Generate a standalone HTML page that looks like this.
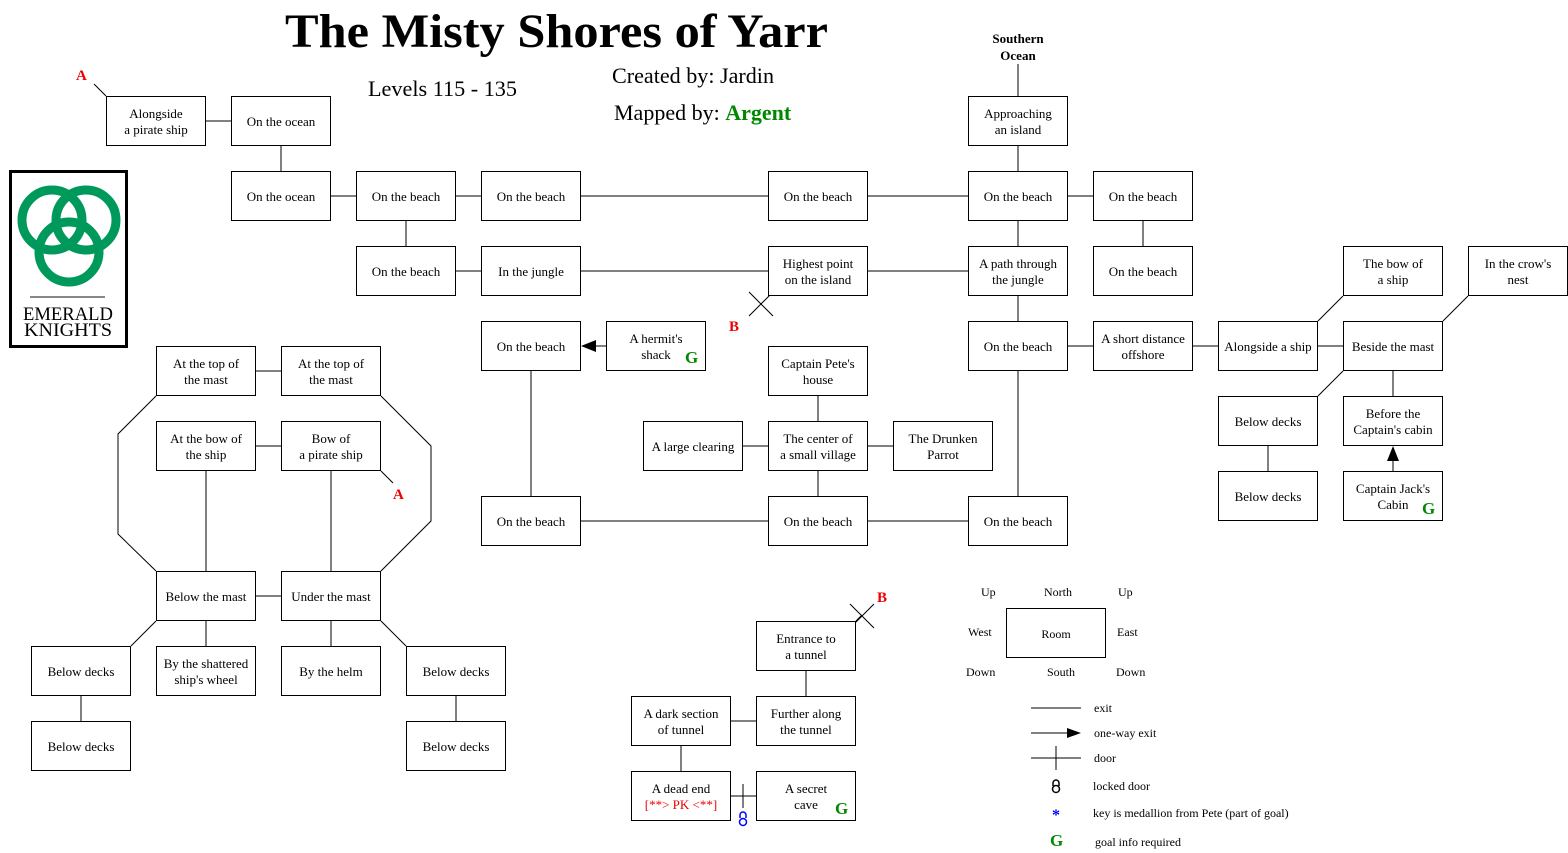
<!DOCTYPE html>
<html><head><meta charset="utf-8"><style>
html,body{margin:0;padding:0;background:#fff;width:1568px;height:853px;overflow:hidden}
svg{display:block;font-family:"Liberation Serif",serif}
.b{fill:#fff;stroke:#000;stroke-width:1}
.t{font-size:13px;text-anchor:middle;fill:#000}
.l{stroke:#000;stroke-width:1;fill:none}
.r{fill:#e00;font-weight:bold;font-size:15px}
.g{fill:#080;font-weight:bold;font-size:17px}
.s{font-size:12px;fill:#000}
</style></head><body>
<svg width="1568" height="853" viewBox="0 0 1568 853" xmlns="http://www.w3.org/2000/svg">
<!-- title -->
<text x="285" y="47" font-size="48" font-weight="bold" textLength="543" lengthAdjust="spacingAndGlyphs">The Misty Shores of Yarr</text>
<text x="368" y="96" font-size="22" textLength="149" lengthAdjust="spacingAndGlyphs">Levels 115 - 135</text>
<text x="612" y="83" font-size="22" textLength="162" lengthAdjust="spacingAndGlyphs">Created by: Jardin</text>
<text x="614" y="120" font-size="22">Mapped by: <tspan fill="#080" font-weight="bold">Argent</tspan></text>
<text x="1018" y="43" font-size="13" font-weight="bold" text-anchor="middle">Southern</text>
<text x="1018" y="60" font-size="13" font-weight="bold" text-anchor="middle">Ocean</text>

<!-- logo -->
<rect x="10.5" y="171.5" width="116" height="175" fill="#fff" stroke="#000" stroke-width="3"/>
<g fill="none" stroke="#00995c" stroke-width="9">
<circle cx="52" cy="220" r="30"/>
<circle cx="86" cy="220" r="30"/>
<circle cx="69" cy="252" r="30"/>
</g>
<line x1="30" y1="297" x2="105" y2="297" stroke="#888" stroke-width="2"/>
<text x="68" y="320" font-size="19" text-anchor="middle" textLength="90" lengthAdjust="spacingAndGlyphs">EMERALD</text>
<text x="68" y="336" font-size="19" text-anchor="middle" textLength="88" lengthAdjust="spacingAndGlyphs">KNIGHTS</text>

<!-- connectors -->
<g class="l">
<path d="M206 121H231M281 146V171M94 84L106 96"/>
<path d="M331 196H356M456 196H481M581 196H768M868 196H968M1068 196H1093"/>
<path d="M1018 64V96M1018 146V171M406 221V246M1143 221V246"/>
<path d="M456 271H481M581 271H768M868 271H968M1018 221V246M1018 296V321"/>
<path d="M749 292L773 316M773 292L749 316"/>
<path d="M592 346H606M531 371V496"/>
<path d="M1068 346H1093M1193 346H1218M1318 346H1343M1318 321L1343 296M1443 321L1468 296M1343 371L1318 396M1393 371V396M1393 460V471M1268 446V471"/>
<path d="M1018 371V496M818 396V421M743 446H768M868 446H893M818 471V496M581 521H768M868 521H968"/>
<path d="M256 371H281M256 446H281M156 396L118 434V534L156 571M381 396L431 446V521L381 571M381 471L393 483"/>
<path d="M206 471V571M331 471V571M256 596H281M156 621L131 646M206 621V646M331 621V646M381 621L406 646M81 696V721M456 696V721"/>
<path d="M856 621L862 615M850 604L874 628M874 604L850 628"/>
<path d="M806 671V696M731 721H756M681 746V771M731 796H756M743 784V808"/>
</g>
<polygon points="581,346 596,340 596,352" fill="#000"/>
<polygon points="1393,446 1387,461 1399,461" fill="#000"/>

<!-- labels A/B -->
<text x="76" y="80" class="r">A</text>
<text x="393" y="499" class="r">A</text>
<text x="729" y="331" class="r">B</text>
<text x="877" y="602" class="r">B</text>

<!-- boxes -->
<g class="b">
<rect x="106.5" y="96.5" width="99" height="49"/><rect x="231.5" y="96.5" width="99" height="49"/>
<rect x="231.5" y="171.5" width="99" height="49"/><rect x="356.5" y="171.5" width="99" height="49"/>
<rect x="481.5" y="171.5" width="99" height="49"/><rect x="768.5" y="171.5" width="99" height="49"/>
<rect x="968.5" y="96.5" width="99" height="49"/><rect x="968.5" y="171.5" width="99" height="49"/>
<rect x="1093.5" y="171.5" width="99" height="49"/>
<rect x="356.5" y="246.5" width="99" height="49"/><rect x="481.5" y="246.5" width="99" height="49"/>
<rect x="768.5" y="246.5" width="99" height="49"/><rect x="968.5" y="246.5" width="99" height="49"/>
<rect x="1093.5" y="246.5" width="99" height="49"/><rect x="1343.5" y="246.5" width="99" height="49"/>
<rect x="1468.5" y="246.5" width="99" height="49"/>
<rect x="481.5" y="321.5" width="99" height="49"/><rect x="606.5" y="321.5" width="99" height="49"/>
<rect x="768.5" y="346.5" width="99" height="49"/><rect x="968.5" y="321.5" width="99" height="49"/>
<rect x="1093.5" y="321.5" width="99" height="49"/><rect x="1218.5" y="321.5" width="99" height="49"/>
<rect x="1343.5" y="321.5" width="99" height="49"/>
<rect x="1218.5" y="396.5" width="99" height="49"/><rect x="1343.5" y="396.5" width="99" height="49"/>
<rect x="1218.5" y="471.5" width="99" height="49"/><rect x="1343.5" y="471.5" width="99" height="49"/>
<rect x="643.5" y="421.5" width="99" height="49"/><rect x="768.5" y="421.5" width="99" height="49"/>
<rect x="893.5" y="421.5" width="99" height="49"/>
<rect x="481.5" y="496.5" width="99" height="49"/><rect x="768.5" y="496.5" width="99" height="49"/>
<rect x="968.5" y="496.5" width="99" height="49"/>
<rect x="156.5" y="346.5" width="99" height="49"/><rect x="281.5" y="346.5" width="99" height="49"/>
<rect x="156.5" y="421.5" width="99" height="49"/><rect x="281.5" y="421.5" width="99" height="49"/>
<rect x="156.5" y="571.5" width="99" height="49"/><rect x="281.5" y="571.5" width="99" height="49"/>
<rect x="31.5" y="646.5" width="99" height="49"/><rect x="156.5" y="646.5" width="99" height="49"/>
<rect x="281.5" y="646.5" width="99" height="49"/><rect x="406.5" y="646.5" width="99" height="49"/>
<rect x="31.5" y="721.5" width="99" height="49"/><rect x="406.5" y="721.5" width="99" height="49"/>
<rect x="756.5" y="621.5" width="99" height="49"/>
<rect x="631.5" y="696.5" width="99" height="49"/><rect x="756.5" y="696.5" width="99" height="49"/>
<rect x="631.5" y="771.5" width="99" height="49"/><rect x="756.5" y="771.5" width="99" height="49"/>
<rect x="1006.5" y="608.5" width="99" height="49"/>
</g>

<g class="t">
<text x="156" y="118">Alongside</text><text x="156" y="134">a pirate ship</text>
<text x="281" y="126">On the ocean</text>
<text x="281" y="201">On the ocean</text>
<text x="406" y="201">On the beach</text>
<text x="531" y="201">On the beach</text>
<text x="818" y="201">On the beach</text>
<text x="1018" y="118">Approaching</text><text x="1018" y="134">an island</text>
<text x="1018" y="201">On the beach</text>
<text x="1143" y="201">On the beach</text>
<text x="406" y="276">On the beach</text>
<text x="531" y="276">In the jungle</text>
<text x="818" y="268">Highest point</text><text x="818" y="284">on the island</text>
<text x="1018" y="268">A path through</text><text x="1018" y="284">the jungle</text>
<text x="1143" y="276">On the beach</text>
<text x="1393" y="268">The bow of</text><text x="1393" y="284">a ship</text>
<text x="1518" y="268">In the crow's</text><text x="1518" y="284">nest</text>
<text x="531" y="351">On the beach</text>
<text x="656" y="343">A hermit's</text><text x="656" y="359">shack</text>
<text x="818" y="368">Captain Pete's</text><text x="818" y="384">house</text>
<text x="1018" y="351">On the beach</text>
<text x="1143" y="343">A short distance</text><text x="1143" y="359">offshore</text>
<text x="1268" y="351">Alongside a ship</text>
<text x="1393" y="351">Beside the mast</text>
<text x="1268" y="426">Below decks</text>
<text x="1393" y="418">Before the</text><text x="1393" y="434">Captain's cabin</text>
<text x="1268" y="501">Below decks</text>
<text x="1393" y="493">Captain Jack's</text><text x="1393" y="509">Cabin</text>
<text x="693" y="451">A large clearing</text>
<text x="818" y="443">The center of</text><text x="818" y="459">a small village</text>
<text x="943" y="443">The Drunken</text><text x="943" y="459">Parrot</text>
<text x="531" y="526">On the beach</text>
<text x="818" y="526">On the beach</text>
<text x="1018" y="526">On the beach</text>
<text x="206" y="368">At the top of</text><text x="206" y="384">the mast</text>
<text x="331" y="368">At the top of</text><text x="331" y="384">the mast</text>
<text x="206" y="443">At the bow of</text><text x="206" y="459">the ship</text>
<text x="331" y="443">Bow of</text><text x="331" y="459">a pirate ship</text>
<text x="206" y="601">Below the mast</text>
<text x="331" y="601">Under the mast</text>
<text x="81" y="676">Below decks</text>
<text x="206" y="668">By the shattered</text><text x="206" y="684">ship's wheel</text>
<text x="331" y="676">By the helm</text>
<text x="456" y="676">Below decks</text>
<text x="81" y="751">Below decks</text>
<text x="456" y="751">Below decks</text>
<text x="806" y="643">Entrance to</text><text x="806" y="659">a tunnel</text>
<text x="681" y="718">A dark section</text><text x="681" y="734">of tunnel</text>
<text x="806" y="718">Further along</text><text x="806" y="734">the tunnel</text>
<text x="681" y="793">A dead end</text><text x="681" y="809" fill="#e00">[**&gt; PK &lt;**]</text>
<text x="806" y="793">A secret</text><text x="806" y="809">cave</text>
<text x="1056" y="638" font-size="12">Room</text>
</g>
<text x="685" y="363" class="g">G</text>
<text x="1422" y="514" class="g">G</text>
<text x="835" y="814" class="g">G</text>

<!-- lock icon in tunnel -->
<g stroke="#00f" fill="none" stroke-width="1.5"><path d="M740 818V815a3 3 0 0 1 6 0V818"/><circle cx="743" cy="822" r="3.5"/></g>

<!-- legend -->
<g class="s">
<text x="981" y="596">Up</text><text x="1044" y="596">North</text><text x="1118" y="596">Up</text>
<text x="968" y="636">West</text><text x="1117" y="636">East</text>
<text x="966" y="676">Down</text><text x="1047" y="676">South</text><text x="1116" y="676">Down</text>
<text x="1094" y="712">exit</text><text x="1094" y="737">one-way exit</text><text x="1094" y="762">door</text>
<text x="1093" y="790">locked door</text>
<text x="1093" y="817">key is medallion from Pete (part of goal)</text>
<text x="1095" y="846">goal info required</text>
</g>
<g class="l"><path d="M1031 708H1081M1031 733H1068M1031 758H1081M1056 746V770"/></g>
<polygon points="1081,733 1067,728 1067,738" fill="#000"/>
<g stroke="#000" fill="none" stroke-width="1.5"><path d="M1053 786V783a3 3 0 0 1 6 0V786"/><circle cx="1056" cy="789" r="3.5"/></g>
<text x="1056" y="820" font-size="16" fill="#00f" text-anchor="middle" font-weight="bold">*</text>
<text x="1050" y="846" class="g">G</text>
</svg>
</body></html>
